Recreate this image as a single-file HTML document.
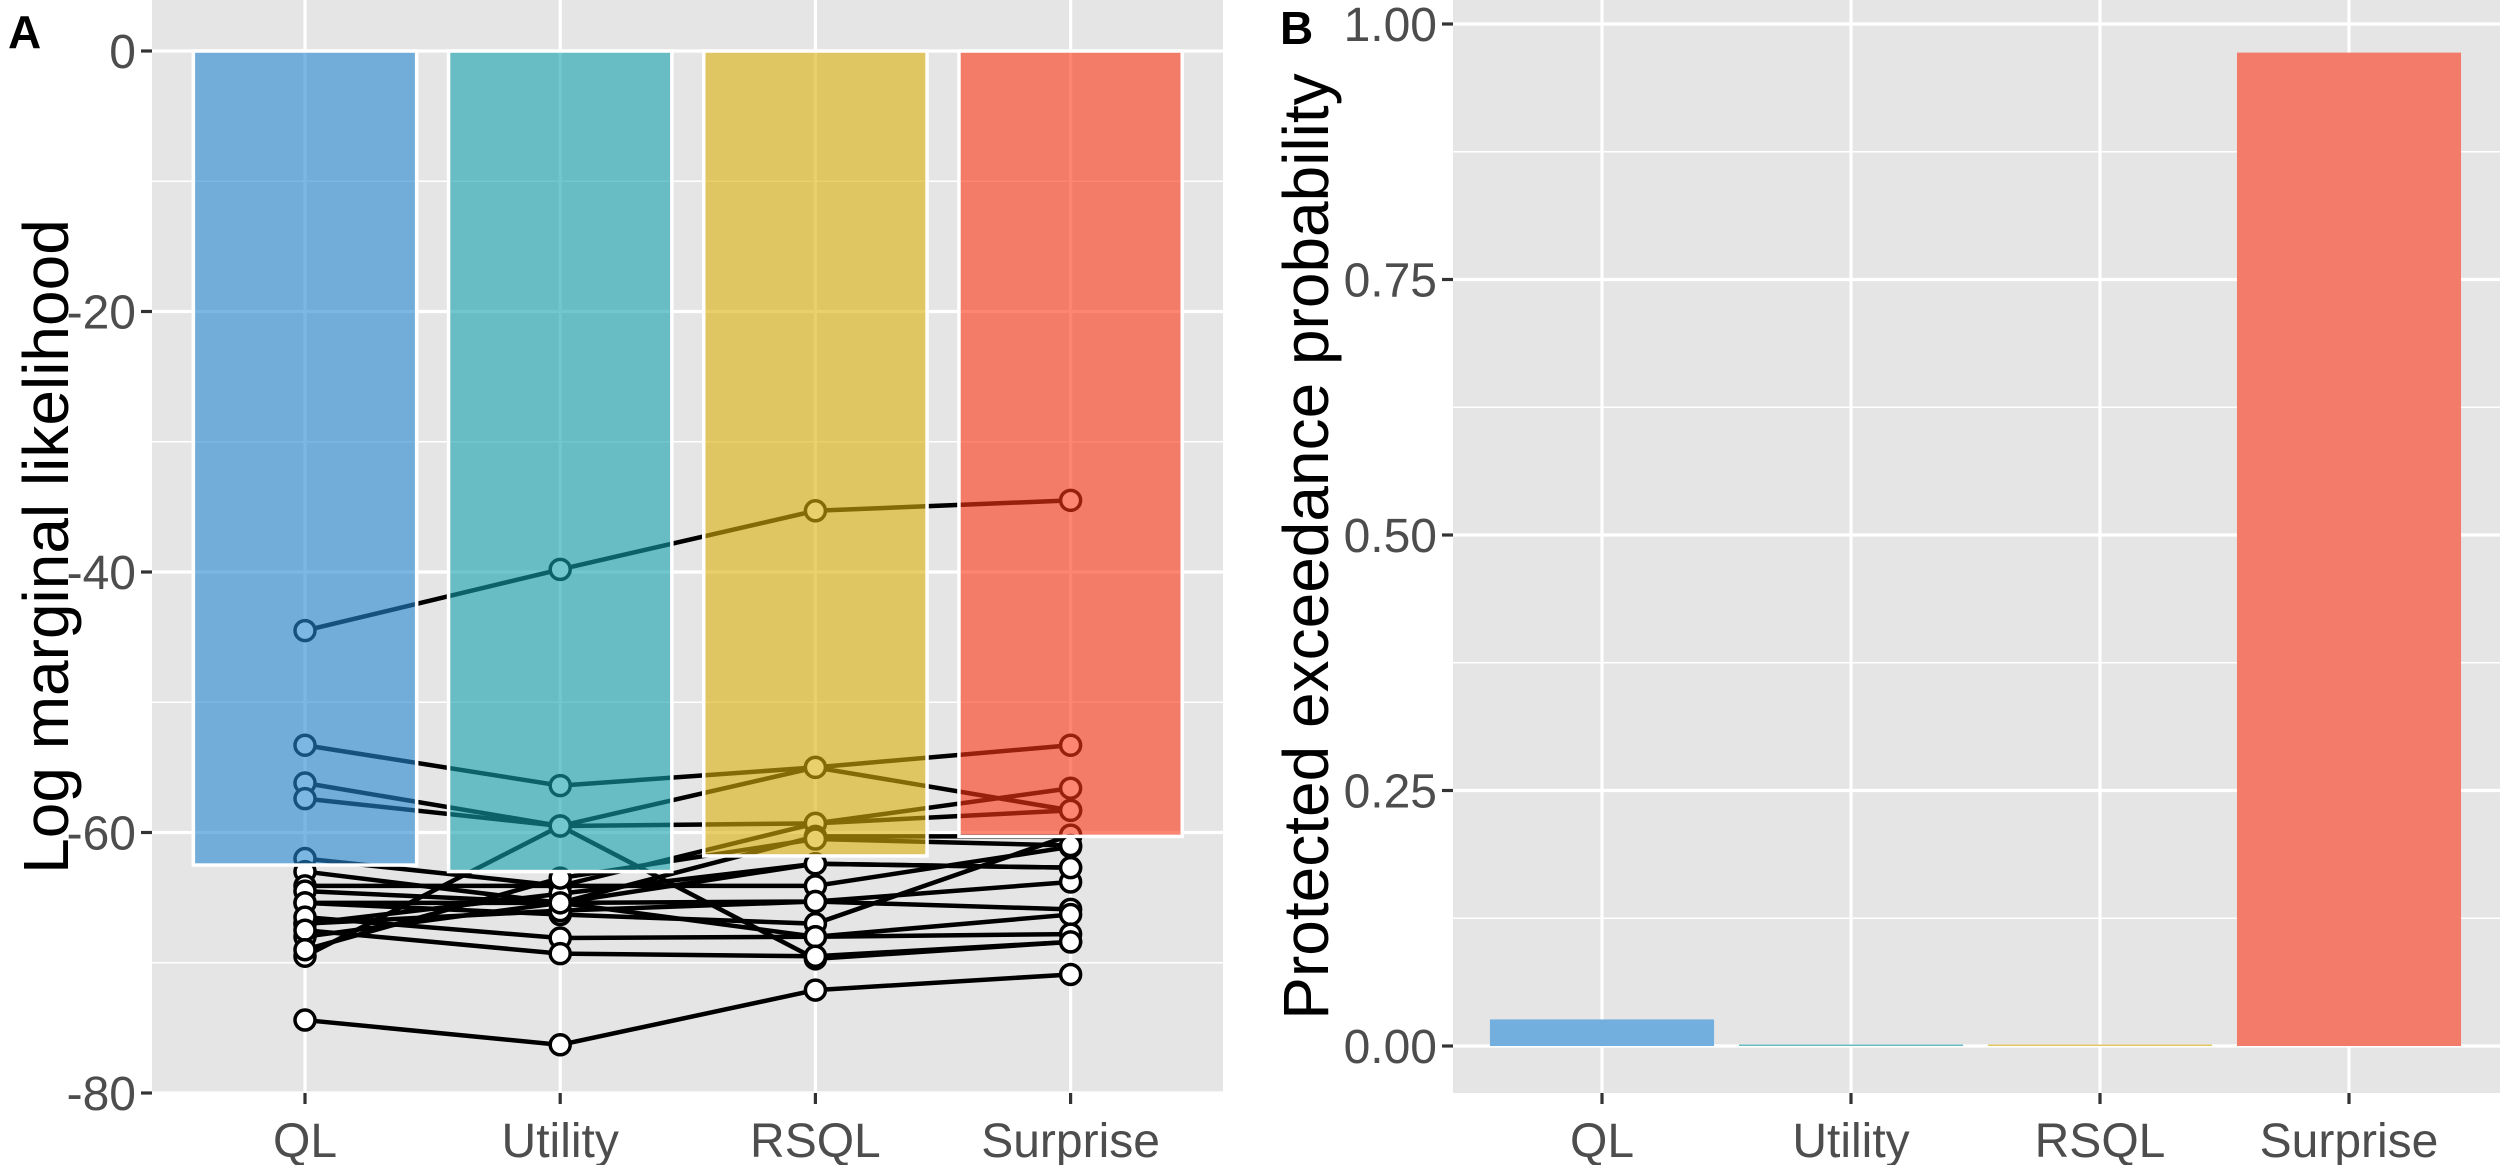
<!DOCTYPE html>
<html><head><meta charset="utf-8"><style>
html,body{margin:0;padding:0;background:#fff}
svg{display:block;font-family:"Liberation Sans",Arial,sans-serif}
</style></head><body>
<svg id="chart" width="2500" height="1165" viewBox="0 0 2500 1165" xmlns="http://www.w3.org/2000/svg">
<g id="panelA"></g>
<g id="panelB"></g>
</svg>
<script>
const categories = ["QL","Utility","RSQL","Surprise"];
const meanLogML = [-62.5,-63.0,-61.8,-60.3];
const pxp = [0.026,0.001,0.001,0.972];
const ticksA = [0,-20,-40,-60,-80];
const ticksB = [0,0.25,0.5,0.75,1];
const tickLabelsB = ["0.00","0.25","0.50","0.75","1.00"];
const subjQL = [-44.5,-53.3,-56.2,-57.4,-69.5,-62.0,-63.0,-64.1,-64.5,-65.4,-65.4,-67.0,-67.0,-68.0,-66.5,-67.5,-69.0,-74.4];
const subjUtility = [-39.8,-56.4,-59.5,-59.5,-59.5,-64.1,-65.4,-64.1,-65.4,-65.4,-66.3,-64.7,-66.0,-65.4,-68.1,-69.3,-63.5,-76.3];
const subjRSQL = [-35.3,-55.0,-69.7,-59.3,-55.0,-59.3,-60.3,-64.1,-62.4,-65.3,-67.0,-62.4,-65.3,-68.0,-68.0,-69.5,-60.5,-72.1];
const subjSurprise = [-34.5,-53.3,-68.4,-56.6,-58.3,-58.3,-60.3,-61.1,-62.7,-63.8,-60.2,-62.7,-65.9,-66.3,-67.8,-68.4,-61.0,-70.9];

const NS="http://www.w3.org/2000/svg";
function mk(parent,tag,attrs,text){const e=document.createElementNS(NS,tag);for(const k in attrs)e.setAttribute(k,attrs[k]);if(text!==undefined)e.textContent=text;parent.appendChild(e);return e;}
const barColA=["rgb(36,135,210)","rgb(19,162,172)","rgb(220,175,12)","rgb(251,54,22)"];
const barColB=["#72afde","#67bdc3","#e0c563","#f27c69"];
const FS=48;

// Panel A
const A=document.getElementById('panelA');
const aL=152,aR=1223,aT=0,aB=1093;
const xA=i=>305+i*255.2;
const yA=v=>51+(-v)*(1093-51)/80;
let e=mk(A,'rect',{x:aL,y:aT,width:aR-aL,height:aB-aT,fill:'#e5e5e5'});

[-10,-30,-50,-70].forEach(v=>{const l=mk(A,'line',{x1:aL,x2:aR,y1:yA(v),y2:yA(v),stroke:'#fff','stroke-width':1.6});});
ticksA.forEach(v=>{const l=mk(A,'line',{x1:aL,x2:aR,y1:yA(v),y2:yA(v),stroke:'#fff','stroke-width':3.2});
 mk(A,'line',{x1:aL-11,x2:aL,y1:yA(v),y2:yA(v),stroke:'#333','stroke-width':3.2});
 const t=mk(A,'text',{x:aL-16,y:yA(v)+17,'text-anchor':'end','font-size':FS,fill:'#4d4d4d'},String(v));});
categories.forEach((c,i)=>{const l=mk(A,'line',{x1:xA(i),x2:xA(i),y1:aT,y2:aB,stroke:'#fff','stroke-width':3.2});
 mk(A,'line',{x1:xA(i),x2:xA(i),y1:aB,y2:aB+11,stroke:'#333','stroke-width':3.2});
 const t=mk(A,'text',{x:xA(i),y:1157,'text-anchor':'middle','font-size':FS,fill:'#4d4d4d'},c);});
const subs=[subjQL,subjUtility,subjRSQL,subjSurprise];
for(let s=0;s<subjQL.length;s++){
 const pts=subs.map((arr,i)=>xA(i)+','+yA(arr[s])).join(' ');
 const pl=mk(A,'polyline',{points:pts,fill:'none',stroke:'#000','stroke-width':4.5});
 
}
for(let s=0;s<subjQL.length;s++){subs.forEach((arr,i)=>{const c=mk(A,'circle',{cx:xA(i),cy:yA(arr[s]),r:10,fill:'#fff',stroke:'#000','stroke-width':3.5});
 });}
const bwA=0.875*255.2;
categories.forEach((c,i)=>{const r=mk(A,'rect',{x:xA(i)-bwA/2,y:yA(0),width:bwA,height:yA(meanLogML[i])-yA(0),fill:barColA[i],'fill-opacity':0.6,stroke:'#fff','stroke-width':3.5});
 });
e=mk(A,'text',{x:68,y:(aT+aB)/2,'text-anchor':'middle','font-size':64,fill:'#000',transform:'rotate(-90 68 '+((aT+aB)/2)+')'},'Log marginal likelihood');

e=mk(A,'text',{x:8,y:48,'font-size':46,'font-weight':'bold',fill:'#000'},'A');


// Panel B
const B=document.getElementById('panelB');
const bL=1453,bR=2500,bT=0,bB=1093;
const xB=i=>1602+i*249;
const yB=v=>1046-v*(1046-24);
e=mk(B,'rect',{x:bL,y:bT,width:bR-bL,height:bB-bT,fill:'#e5e5e5'});

[0.125,0.375,0.625,0.875].forEach(v=>{const l=mk(B,'line',{x1:bL,x2:bR,y1:yB(v),y2:yB(v),stroke:'#fff','stroke-width':1.6});});
ticksB.forEach((v,k)=>{const l=mk(B,'line',{x1:bL,x2:bR,y1:yB(v),y2:yB(v),stroke:'#fff','stroke-width':3.2});
 mk(B,'line',{x1:bL-11,x2:bL,y1:yB(v),y2:yB(v),stroke:'#333','stroke-width':3.2});
 const t=mk(B,'text',{x:bL-16,y:yB(v)+17,'text-anchor':'end','font-size':FS,fill:'#4d4d4d'},tickLabelsB[k]);});
categories.forEach((c,i)=>{const l=mk(B,'line',{x1:xB(i),x2:xB(i),y1:bT,y2:bB,stroke:'#fff','stroke-width':3.2});
 mk(B,'line',{x1:xB(i),x2:xB(i),y1:bB,y2:bB+11,stroke:'#333','stroke-width':3.2});
 const t=mk(B,'text',{x:xB(i),y:1157,'text-anchor':'middle','font-size':FS,fill:'#4d4d4d'},c);});
const bwB=0.9*249;
categories.forEach((c,i)=>{const h=Math.max(yB(0)-yB(pxp[i]),1.5);const r=mk(B,'rect',{x:xB(i)-bwB/2,y:yB(0)-h,width:bwB,height:h,fill:barColB[i]});
 });
e=mk(B,'text',{x:1328,y:(bT+bB)/2,'text-anchor':'middle','font-size':64,fill:'#000',transform:'rotate(-90 1328 '+((bT+bB)/2)+')'},'Protected exceedance probability');

e=mk(B,'text',{x:1280,y:44,'font-size':46,'font-weight':'bold',fill:'#000'},'B');

</script>
</body></html>
